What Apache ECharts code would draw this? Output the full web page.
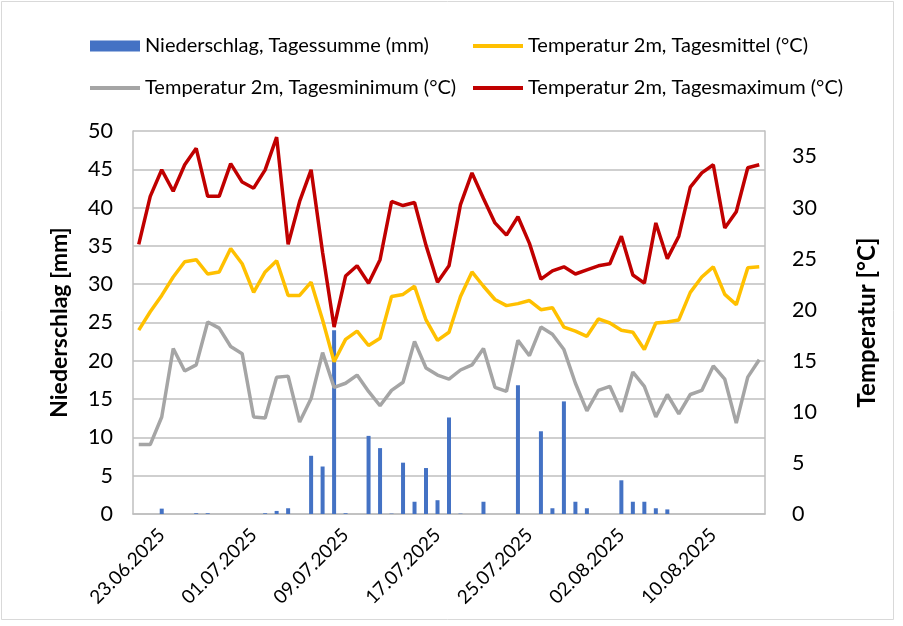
<!DOCTYPE html>
<html>
<head>
<meta charset="utf-8">
<script src="https://cdn.jsdelivr.net/npm/echarts@6/dist/echarts.min.js"></script>
<style>
  html, body { margin: 0; padding: 0; background: #fff; }
  #main { width: 903px; height: 626px; }
</style>
</head>
<body>
<div id="main"></div>
<script>
// Tagesdaten 21.06.2025 - 14.08.2025
const startDate = new Date(2025, 5, 21);
const dates = [];
for (let i = 0; i < 55; i++) {
    const d = new Date(startDate.getFullYear(), startDate.getMonth(), startDate.getDate() + i);
    const dd = String(d.getDate()).padStart(2, "0");
    const mm = String(d.getMonth() + 1).padStart(2, "0");
    dates.push(dd + "." + mm + "." + d.getFullYear());
}

const niederschlag = [
    0, 0, 0.7, 0, 0, 0.1, 0.1, 0, 0, 0,
    0, 0.1, 0.4, 0.75, 0, 7.6, 6.2, 24.0, 0.1, 0,
    10.2, 8.6, 0.05, 6.7, 1.6, 6.0, 1.8, 12.6, 0.05, 0,
    1.6, 0, 0, 16.8, 0, 10.8, 0.75, 14.7, 1.6, 0.75,
    0, 0, 4.4, 1.6, 1.6, 0.75, 0.6, 0, 0, 0,
    0, 0, 0, 0, 0
];

const tMittel = [
    18.0, 19.8, 21.4, 23.2, 24.7, 24.9, 23.5, 23.7, 26.0, 24.5,
    21.7, 23.7, 24.8, 21.4, 21.4, 22.7, 19.0, 14.9, 17.1, 17.9,
    16.5, 17.2, 21.3, 21.5, 22.3, 19.0, 17.0, 17.8, 21.3, 23.7,
    22.3, 21.0, 20.4, 20.6, 20.9, 20.0, 20.2, 18.3, 17.9, 17.4,
    19.1, 18.7, 18.0, 17.8, 16.1, 18.7, 18.8, 19.0, 21.7, 23.2,
    24.2, 21.5, 20.5, 24.1, 24.2
];

const tMin = [
    6.8, 6.8, 9.5, 16.2, 14.0, 14.6, 18.8, 18.2, 16.4, 15.7,
    9.5, 9.4, 13.4, 13.5, 9.0, 11.3, 15.8, 12.4, 12.8, 13.6,
    12.0, 10.6, 12.1, 12.9, 16.9, 14.3, 13.6, 13.2, 14.1, 14.6,
    16.2, 12.4, 12.0, 17.0, 15.5, 18.3, 17.6, 16.1, 12.8, 10.1,
    12.1, 12.5, 10.0, 13.9, 12.5, 9.5, 11.7, 9.8, 11.7, 12.1,
    14.5, 13.2, 8.9, 13.4, 15.1
];

const tMax = [
    26.4, 31.1, 33.7, 31.6, 34.2, 35.8, 31.1, 31.1, 34.3, 32.5,
    31.9, 33.7, 36.9, 26.4, 30.6, 33.7, 25.6, 18.3, 23.3, 24.3,
    22.6, 24.9, 30.6, 30.2, 30.5, 26.3, 22.7, 24.3, 30.3, 33.4,
    30.9, 28.5, 27.3, 29.1, 26.5, 23.0, 23.8, 24.2, 23.5, 23.9,
    24.3, 24.5, 27.2, 23.4, 22.6, 28.5, 25.0, 27.2, 32.0, 33.4,
    34.2, 28.0, 29.6, 33.9, 34.2
];

const seriesNames = [
    "Niederschlag, Tagessumme (mm)",
    "Temperatur 2m, Tagesmittel (°C)",
    "Temperatur 2m, Tagesminimum (°C)",
    "Temperatur 2m, Tagesmaximum (°C)"
];
const colors = ["#4472C4", "#FFC000", "#A5A5A5", "#C00000"];

const font = "Lato";
const chart = echarts.init(document.getElementById("main"));

function legendItem(name, left, top, isBar) {
    return {
        data: [name],
        left: left,
        top: top,
        icon: "rect",
        itemWidth: 50,
        itemHeight: isBar ? 11 : 4,
        itemGap: 0,
        selectedMode: false,
        textStyle: { fontFamily: font, fontSize: 20, color: "#000" }
    };
}

function lineSeries(idx, data) {
    return {
        name: seriesNames[idx],
        type: "line",
        yAxisIndex: 1,
        data: data,
        symbol: "none",
        itemStyle: { color: colors[idx] },
        lineStyle: { width: 3.5, color: colors[idx] }
    };
}

const option = {
    animation: false,
    backgroundColor: "#fff",
    graphic: [{
        type: "rect",
        shape: { x: 1.5, y: 1.5, width: 892, height: 618 },
        style: { fill: "none", stroke: "#d9d9d9", lineWidth: 1 },
        silent: true
    }],
    legend: [
        legendItem(seriesNames[0], 85, 31, true),
        legendItem(seriesNames[1], 468, 31, false),
        legendItem(seriesNames[2], 85, 73, false),
        legendItem(seriesNames[3], 468, 73, false)
    ],
    grid: { left: 133, right: 138, top: 131, bottom: 112 },
    xAxis: {
        type: "category",
        data: dates,
        boundaryGap: true,
        axisLine: { lineStyle: { color: "#bfbfbf", width: 1.5 } },
        axisTick: { show: false },
        axisLabel: {
            interval: (idx) => (idx - 2) % 8 === 0,
            rotate: 45,
            margin: 18,
            fontFamily: font,
            fontSize: 19,
            color: "#000"
        }
    },
    yAxis: [{
        type: "value",
        min: 0,
        max: 50,
        interval: 5,
        name: "Niederschlag [mm]",
        nameLocation: "middle",
        nameRotate: 90,
        nameGap: 62,
        nameTextStyle: { fontFamily: font, fontSize: 23, fontWeight: "bold", color: "#000" },
        axisLine: { show: true, lineStyle: { color: "#bfbfbf", width: 1.5 } },
        axisLabel: { fontFamily: font, fontSize: 21.5, color: "#000", margin: 20 },
        splitLine: { lineStyle: { color: "#bfbfbf", width: 1.5 } }
    }, {
        type: "value",
        min: 0,
        max: 37.5,
        interval: 5,
        position: "right",
        name: "Temperatur [°C]",
        nameLocation: "middle",
        nameRotate: 90,
        nameGap: 90,
        nameTextStyle: { fontFamily: font, fontSize: 24, fontWeight: "bold", color: "#000" },
        axisLine: { show: true, lineStyle: { color: "#bfbfbf", width: 1.5 } },
        axisLabel: { fontFamily: font, fontSize: 21.5, color: "#000", margin: 27, showMaxLabel: false },
        splitLine: { show: false }
    }],
    series: [{
        name: seriesNames[0],
        type: "bar",
        yAxisIndex: 0,
        barWidth: 4,
        data: niederschlag,
        itemStyle: { color: colors[0] }
    },
        lineSeries(2, tMin),
        lineSeries(1, tMittel),
        lineSeries(3, tMax)
    ]
};

chart.setOption(option);
</script>
</body>
</html>
